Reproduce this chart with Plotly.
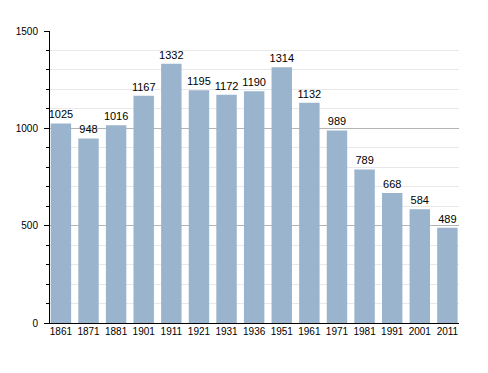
import plotly.graph_objects as go

years = ["1861", "1871", "1881", "1901", "1911", "1921", "1931", "1936",
         "1951", "1961", "1971", "1981", "1991", "2001", "2011"]
population = [1025, 948, 1016, 1167, 1332, 1195, 1172, 1190,
              1314, 1132, 989, 789, 668, 584, 489]
y_ticks = [0, 500, 1000, 1500]

fig = go.Figure(go.Bar(
    x=years, y=population,
    text=[str(v) for v in population],
    textposition="outside",
    textfont=dict(size=11, color="black", family="Liberation Sans, Arial"),
    cliponaxis=False,
    marker=dict(color="#9bb4cd", line=dict(width=0)),
))

fig.update_layout(
    width=488, height=373,
    margin=dict(l=42, r=37, t=23, b=58, autoexpand=False),
    paper_bgcolor="white", plot_bgcolor="white",
    bargap=0.26,
    showlegend=False,
    uniformtext=dict(minsize=11, mode="show"),
    font=dict(family="Liberation Sans, Arial", size=10, color="black"),
)
fig.update_xaxes(
    type="category", range=[-0.395, len(years) - 1 + 0.42],
    showline=True, linecolor="black", linewidth=1,
    ticks="", showgrid=False, tickfont=dict(size=10), automargin=False,
    ticklabelstandoff=-1,
)
fig.update_yaxes(
    range=[0, 1500], tickvals=y_ticks, showline=True, linecolor="black", linewidth=1,
    ticks="outside", ticklen=5, tickcolor="black", automargin=False,
    showgrid=True, gridcolor="#b4b4b4", gridwidth=1,
    minor=dict(dtick=100, ticks="outside", ticklen=3, tickcolor="black",
               showgrid=True, gridcolor="#e8e8e8", gridwidth=1),
    zeroline=False, tickfont=dict(size=10), layer="below traces",
    ticklabelstandoff=4,
)

fig.write_html("out.html")
